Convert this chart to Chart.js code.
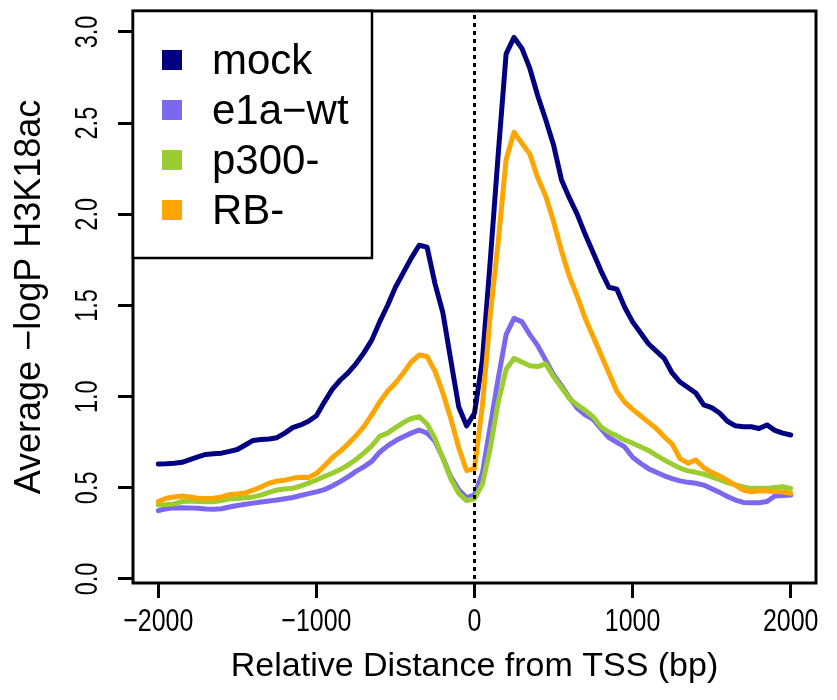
<!DOCTYPE html>
<html><head><meta charset="utf-8">
<script src="https://cdn.jsdelivr.net/npm/chart.js@4"></script>
<style>html,body{margin:0;padding:0;background:#fff}#wrap{width:837px;height:700px}</style>
</head><body><div id="wrap"><canvas id="c" width="837" height="700"></canvas></div>
<script>
const positions = [-2000,-1950,-1900,-1850,-1800,-1750,-1700,-1650,-1600,-1550,
  -1500,-1450,-1400,-1350,-1300,-1250,-1200,-1150,-1100,-1050,
  -1000,-950,-900,-850,-800,-750,-700,-650,-600,-550,
  -500,-450,-400,-350,-300,-250,-200,-150,-100,-50,
  0,50,100,150,200,250,300,350,400,450,
  500,550,600,650,700,750,800,850,900,950,
  1000,1050,1100,1150,1200,1250,1300,1350,1400,1450,
  1500,1550,1600,1650,1700,1750,1800,1850,1900,1950,2000];
const mock = [0.63,0.632,0.635,0.64,0.655,0.67,0.683,0.687,0.69,0.70,
  0.71,0.735,0.76,0.765,0.768,0.775,0.80,0.83,0.845,0.865,
  0.895,0.97,1.04,1.09,1.13,1.18,1.24,1.31,1.41,1.50,
  1.60,1.68,1.76,1.83,1.82,1.62,1.46,1.20,0.945,0.84,
  0.91,1.20,1.75,2.33,2.88,2.97,2.91,2.80,2.65,2.52,
  2.38,2.19,2.09,2.00,1.89,1.79,1.69,1.60,1.59,1.49,
  1.41,1.35,1.29,1.25,1.21,1.13,1.08,1.05,1.02,0.955,
  0.94,0.91,0.865,0.84,0.835,0.835,0.825,0.845,0.815,0.80,0.79];
const e1aWt = [0.375,0.385,0.39,0.391,0.39,0.388,0.384,0.382,0.385,0.395,
  0.403,0.41,0.416,0.422,0.428,0.433,0.44,0.447,0.458,0.468,
  0.478,0.49,0.51,0.534,0.56,0.59,0.615,0.645,0.695,0.73,
  0.758,0.78,0.80,0.817,0.80,0.755,0.665,0.56,0.49,0.445,
  0.462,0.58,0.84,1.10,1.34,1.43,1.41,1.34,1.28,1.20,
  1.12,1.06,0.995,0.936,0.90,0.875,0.825,0.775,0.75,0.724,
  0.668,0.635,0.605,0.585,0.566,0.55,0.538,0.53,0.525,0.515,
  0.495,0.475,0.452,0.433,0.42,0.418,0.418,0.425,0.455,0.458,0.46];
const p300 = [0.406,0.408,0.412,0.425,0.428,0.425,0.424,0.424,0.43,0.44,
  0.442,0.445,0.45,0.46,0.475,0.488,0.494,0.497,0.51,0.526,
  0.543,0.562,0.58,0.60,0.625,0.655,0.69,0.73,0.782,0.80,
  0.83,0.858,0.88,0.89,0.85,0.77,0.66,0.55,0.47,0.43,
  0.44,0.52,0.72,0.97,1.15,1.21,1.19,1.17,1.165,1.18,
  1.11,1.05,0.99,0.955,0.925,0.89,0.835,0.805,0.785,0.762,
  0.745,0.725,0.705,0.678,0.653,0.63,0.608,0.593,0.585,0.575,
  0.56,0.545,0.528,0.516,0.505,0.497,0.497,0.497,0.502,0.506,0.497];
const rb = [0.425,0.443,0.45,0.455,0.45,0.443,0.442,0.443,0.45,0.463,
  0.466,0.472,0.487,0.505,0.525,0.537,0.542,0.552,0.558,0.557,
  0.578,0.62,0.665,0.70,0.74,0.785,0.835,0.90,0.97,1.03,
  1.075,1.13,1.19,1.228,1.22,1.14,1.02,0.88,0.72,0.595,
  0.605,0.95,1.45,1.85,2.30,2.45,2.39,2.33,2.20,2.10,
  1.96,1.80,1.66,1.55,1.43,1.33,1.23,1.13,1.03,0.97,
  0.93,0.895,0.86,0.825,0.78,0.74,0.66,0.635,0.653,0.61,
  0.585,0.565,0.54,0.515,0.488,0.478,0.484,0.482,0.48,0.477,0.47];
const seriesNames = ['mock','e1a\u2212wt','p300-','RB-'];
const seriesColors = ['#000080','#7B68EE','#9ACD32','#FFA500'];
const xTicks = [-2000,-1000,0,1000,2000];
const yTicks = [0,0.5,1,1.5,2,2.5,3];
const xTitle = 'Relative Distance from TSS (bp)';
const yTitle = 'Average \u2212logP H3K18ac';

const FONT = '"Liberation Sans", Arial, Helvetica, sans-serif';
const seriesValues = [mock, e1aWt, p300, rb];

function fmtX(v){ return v < 0 ? '\u2212' + Math.abs(v) : String(v); }

const decor = {
  id: 'decor',
  afterDatasetsDraw(chart){
    const {ctx, chartArea: a, scales: {x, y}} = chart;
    ctx.save();
    // dotted vertical line at TSS
    const x0 = x.getPixelForValue(0);
    ctx.strokeStyle = '#000'; ctx.lineWidth = 3; ctx.setLineDash([4,4]);
    ctx.beginPath(); ctx.moveTo(x0, a.top + 4); ctx.lineTo(x0, a.bottom); ctx.stroke();
    ctx.setLineDash([]);
    // plot box
    ctx.lineWidth = 3;
    ctx.strokeRect(a.left, a.top, a.right - a.left, a.bottom - a.top);
    // legend
    const lw = 239, lh = 247;
    ctx.fillStyle = '#fff';
    ctx.fillRect(a.left, a.top, lw, lh);
    ctx.lineWidth = 2.5;
    ctx.strokeRect(a.left, a.top, lw, lh);
    ctx.font = '42px ' + FONT;
    ctx.textBaseline = 'middle'; ctx.textAlign = 'left';
    chart.data.datasets.forEach((ds, i) => {
      const cy = a.top + 49 + i * 50;
      ctx.fillStyle = ds.borderColor;
      ctx.fillRect(a.left + 29, cy - 10, 20, 20);
      ctx.fillStyle = '#000';
      ctx.fillText(ds.label, a.left + 79, cy + 2);
    });
    // x tick labels (narrow)
    ctx.font = '32px ' + FONT;
    ctx.textAlign = 'center'; ctx.textBaseline = 'alphabetic';
    xTicks.forEach(v => {
      ctx.save();
      ctx.translate(x.getPixelForValue(v), 631);
      ctx.scale(0.78, 1);
      ctx.fillText(fmtX(v), 0, 0);
      ctx.restore();
    });
    // y tick labels (rotated, narrow)
    ctx.font = '31px ' + FONT;
    yTicks.forEach(v => {
      ctx.save();
      ctx.translate(97, y.getPixelForValue(v));
      ctx.rotate(-Math.PI/2);
      ctx.scale(0.76, 1);
      ctx.fillText(v.toFixed(1), 0, 0);
      ctx.restore();
    });
    // titles
    ctx.font = '34px ' + FONT;
    ctx.fillText(xTitle, (a.left + a.right)/2, 676);
    ctx.font = '36px ' + FONT;
    ctx.save();
    ctx.translate(40, (a.top + a.bottom)/2);
    ctx.rotate(-Math.PI/2);
    ctx.fillText(yTitle, 0, 0);
    ctx.restore();
    ctx.restore();
  }
};

const datasets = seriesValues.map((vals, i) => ({
  label: seriesNames[i],
  data: positions.map((p, j) => ({x: p, y: vals[j]})),
  borderColor: seriesColors[i],
  backgroundColor: seriesColors[i],
  borderWidth: 5,
  pointRadius: 0,
  tension: 0,
  fill: false,
  order: 4 - i,
  borderJoinStyle: 'round',
  borderCapStyle: 'round'
}));

new Chart(document.getElementById('c'), {
  type: 'line',
  data: { datasets },
  options: {
    responsive: false,
    animation: false,
    devicePixelRatio: 1,
    layout: { padding: { top: 11, right: 21, left: 0, bottom: 0 } },
    plugins: { legend: { display: false }, tooltip: { enabled: false } },
    scales: {
      x: {
        type: 'linear', min: -2160, max: 2160,
        afterBuildTicks: s => { s.ticks = xTicks.map(v => ({value: v})); },
        afterFit: s => { s.height = 117; },
        ticks: { display: false },
        grid: { drawOnChartArea: false, drawTicks: true, tickLength: 15, color: '#000', lineWidth: 3 },
        border: { display: false }
      },
      y: {
        type: 'linear', min: -0.022, max: 3.115,
        afterBuildTicks: s => { s.ticks = yTicks.map(v => ({value: v})); },
        afterFit: s => { s.width = 133; },
        ticks: { display: false },
        grid: { drawOnChartArea: false, drawTicks: true, tickLength: 15, color: '#000', lineWidth: 3 },
        border: { display: false }
      }
    }
  },
  plugins: [decor]
});
</script></body></html>
